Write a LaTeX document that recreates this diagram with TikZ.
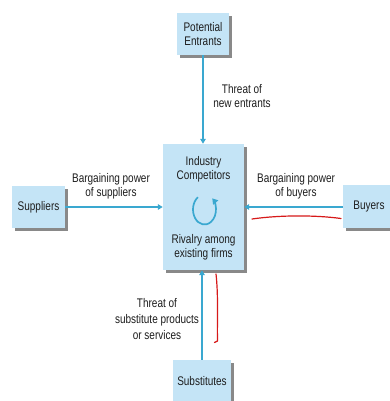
\documentclass[tikz,border=0pt]{standalone}
\usepackage{fontspec}
\setmainfont{Liberation Sans}[FakeStretch=0.8]
\usetikzlibrary{arrows.meta,shadows}
\definecolor{boxblue}{RGB}{196,228,246}
\definecolor{linecyan}{RGB}{58,168,208}
\definecolor{shadowgray}{RGB}{125,125,125}
\definecolor{penred}{RGB}{215,25,25}
\definecolor{textdark}{RGB}{30,30,30}
\begin{document}
\begin{tikzpicture}[x=1pt,y=1pt,
  box/.style={fill=boxblue, inner sep=0pt, align=center, text=textdark,
    font=\fontsize{12.5}{14}\selectfont,
    drop shadow={shadow xshift=3pt, shadow yshift=-3pt, fill=shadowgray, opacity=0.9}},
  txt/.style={inner sep=0pt, align=center, text=textdark, font=\fontsize{12.5}{14}\selectfont},
  conn/.style={draw=linecyan, line width=1.5pt, -{Triangle[width=5.5pt,length=5pt]}},
  pen/.style={draw=penred, line width=1.2pt, line cap=round, line join=round}]
\useasboundingbox (0,0) rectangle (390,401);
\clip (0,0) rectangle (390,401);
\fill[white] (0,0) rectangle (390,401);

% boxes
\node[box, minimum width=52, minimum height=42] (pe) at (203,367) {Potential\\Entrants};
\node[box, minimum width=53, minimum height=42] (sup) at (38.5,194) {Suppliers};
\node[box, minimum width=81, minimum height=126] (ind) at (203.5,194) {};
\node[box, minimum width=52, minimum height=43] (buy) at (369,194.5) {Buyers};
\node[box, minimum width=58, minimum height=42] (sub) at (202,20) {Substitutes};

% texts inside the central box
\node[txt] (ic) at (203.5,232) {Industry\\Competitors};
\node[txt] (ra) at (203.5,154) {Rivalry among\\existing firms};
\coordinate (loopc) at (204.5,191.5);
\draw[draw=linecyan, line width=1.7pt, -{Triangle[width=6.5pt,length=5.5pt]}]
  ([shift={(125:11.5 and 15)}]loopc) arc[start angle=125, end angle=408, x radius=11.5, y radius=15];

% connectors
\draw[conn] (pe.south) -- (pe.south |- ind.north);
\draw[conn] (sup.east) -- (sup.east -| ind.west);
\draw[conn] (buy.west |- ind.east) -- (ind.east);
\draw[conn] (sub.north) -- (sub.north |- ind.south);

% labels
\node[txt] (lpe) at (242,305) {Threat of\\new entrants};
\node[txt] (lsup) at (111,215) {Bargaining power\\of suppliers};
\node[txt] (lbuy) at (296,215) {Bargaining power\\of buyers};
\node[txt, font=\fontsize{12.5}{16}\selectfont] (lsub) at (157,82) {Threat of\\substitute products\\or services};

% hand-drawn red annotations
\draw[pen] (252,182) .. controls (280,186) and (315,186) .. (341,182.5);
\draw[pen] (216,127) .. controls (218.5,105) and (217,80) .. (217.5,60) -- (214.5,58.5);
\end{tikzpicture}
\end{document}
